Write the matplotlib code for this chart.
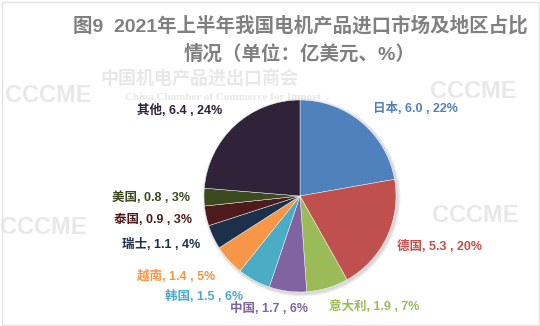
import matplotlib
matplotlib.use("Agg")
import matplotlib.pyplot as plt
from matplotlib.patches import Rectangle

# Import value by market (100 million USD) and share (%)
markets = ["日本", "德国", "意大利", "中国", "韩国", "越南", "瑞士", "泰国", "美国", "其他"]
values = [6.0, 5.3, 1.9, 1.7, 1.5, 1.4, 1.1, 0.9, 0.8, 6.4]
shares = [22, 20, 7, 6, 6, 5, 4, 3, 3, 24]
colors = ["#4F81BD", "#C0504D", "#9BBB59", "#8064A2", "#4BACC6",
          "#F79646", "#1C3149", "#4D1B1C", "#3C4A1F", "#2F2239"]

title_lines = ["图9  2021年上半年我国电机产品进口市场及地区占比",
               "情况（单位：亿美元、%）"]

# label anchor points (left edge x, centre y) in pixel units from the top-left
label_pos = [(373, 108), (397, 246), (329, 306), (230, 308), (165, 297),
             (137, 276), (122, 244), (114, 220), (112, 198), (137, 111)]

W, H = 540, 326
fig = plt.figure(figsize=(W / 100, H / 100), dpi=100)
ax = fig.add_axes([0, 0, 1, 1])
ax.set_xlim(0, W)
ax.set_ylim(0, H)
ax.set_aspect("equal")
ax.axis("off")

fam = ["Liberation Sans", "Noto Sans CJK SC"]

# faint background watermark
wm = "#E8E8E8"
for (x, y) in [(5, 95), (430, 92), (0, 228), (432, 216)]:
    ax.text(x, H - y, "CCCME", fontsize=17, fontweight="bold", color=wm,
            family=fam, va="center", ha="left", zorder=0)
ax.text(100, H - 80, "中国机电产品进出口商会", fontsize=13, fontweight="bold",
        color=wm, family=fam, va="center", ha="left", zorder=0)
ax.text(125, H - 97, "China Chamber of Commerce for Import", fontsize=8,
        fontweight="bold", color=wm, family="Liberation Serif",
        va="center", ha="left", zorder=0)

# figure border
ax.add_patch(Rectangle((1.5, 1.5), W - 3, H - 3, fill=False,
                       edgecolor="#E3E3E3", linewidth=1, zorder=1))

cx, cy, r = 300, H - 196, 96
# soft shadow behind the pie
for i, a in enumerate([0.05, 0.05, 0.05]):
    sh = plt.Circle((cx + 1.5, cy - 1.5), r + 1 + i, color="black",
                    alpha=a, zorder=2, linewidth=0)
    ax.add_patch(sh)

ax.pie(values, colors=colors, startangle=90, counterclock=False,
       center=(cx, cy), radius=r, frame=True,
       wedgeprops=dict(edgecolor="#FFFFFF", linewidth=0.3, zorder=3))
ax.set_xlim(0, W)
ax.set_ylim(0, H)
ax.axis("off")

for name, v, s, c, (x, y) in zip(markets, values, shares, colors, label_pos):
    ax.text(x, H - y, f"{name}, {v:.1f} , {s}%", color=c, fontsize=9,
            fontweight="bold", family=fam, ha="left", va="center", zorder=5)

ax.text(300, H - 26, title_lines[0], color="#808080", fontsize=14,
        fontweight="bold", family=fam, ha="center", va="center", zorder=5)
ax.text(300, H - 54, title_lines[1], color="#808080", fontsize=14,
        fontweight="bold", family=fam, ha="center", va="center", zorder=5)

fig.savefig("out.png", dpi=100)
